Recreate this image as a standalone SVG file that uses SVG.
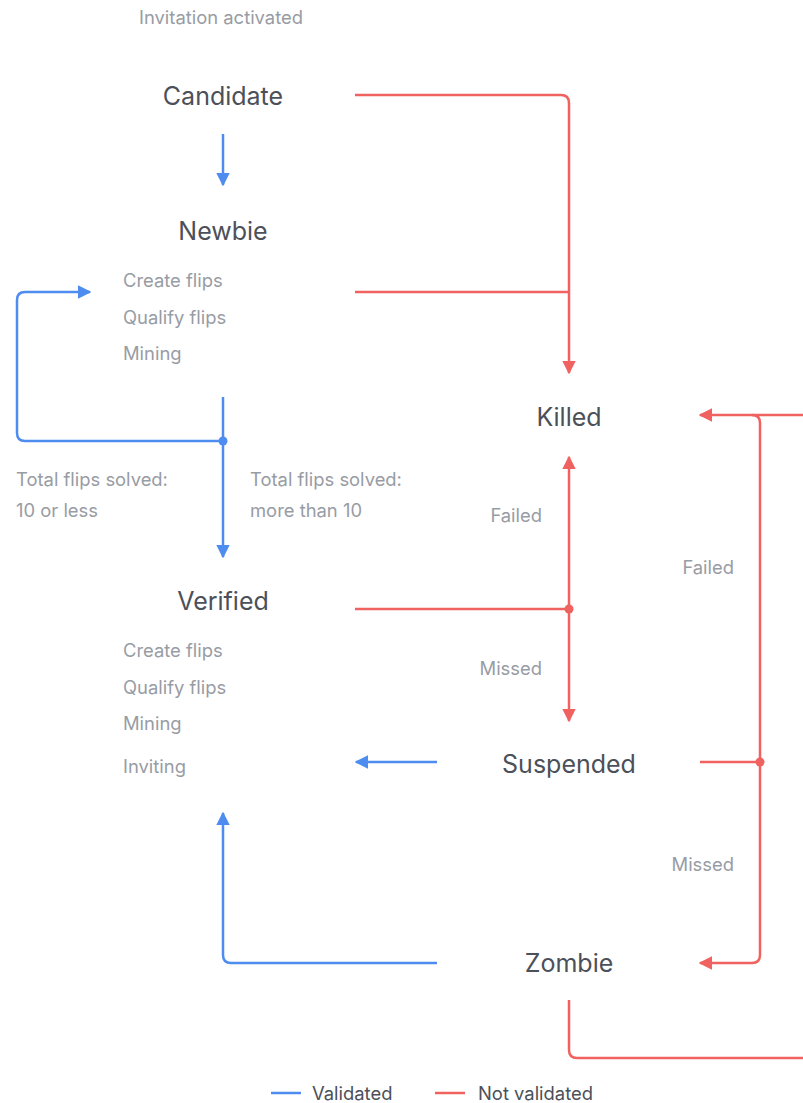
<svg xmlns="http://www.w3.org/2000/svg" width="803" height="1103" viewBox="0 0 803 1103">
<defs>
<marker id="ab" viewBox="0 0 10 10" refX="9" refY="5" markerWidth="5.5" markerHeight="5.5" orient="auto" markerUnits="strokeWidth"><path d="M0,0 L10,5 L0,10 Z" fill="#4f8cf0"/></marker>
<marker id="ar" viewBox="0 0 10 10" refX="9" refY="5" markerWidth="5.5" markerHeight="5.5" orient="auto" markerUnits="strokeWidth"><path d="M0,0 L10,5 L0,10 Z" fill="#f0625f"/></marker>
<style>
.t{font-family:Inter,"Noto Sans",sans-serif;font-size:25px;fill:#4c5059;text-anchor:middle;}
.s{font-family:Inter,"Noto Sans",sans-serif;font-size:18.4px;fill:#989ca4;}
.b{fill:none;stroke:#4f8cf0;stroke-width:2.5;}
.r{fill:none;stroke:#f0625f;stroke-width:2.5;}
</style>
</defs>
<rect width="803" height="1103" fill="#ffffff"/>
<g id="connectors">
<path class="b" d="M223,134 V185" marker-end="url(#ab)"/>
<path class="b" d="M223,397 V557" marker-end="url(#ab)"/>
<path class="b" d="M223,441 H25 Q17,441 17,433 V300 Q17,292 25,292 H90" marker-end="url(#ab)"/>
<circle cx="223" cy="441" r="4.5" fill="#4f8cf0"/>
<path class="b" d="M437,762 H356" marker-end="url(#ab)"/>
<path class="b" d="M437,963 H231 Q223,963 223,955 V813" marker-end="url(#ab)"/>
<path class="r" d="M355,95 H561 Q569,95 569,103 V373" marker-end="url(#ar)"/>
<path class="r" d="M355,292 H569"/>
<path class="r" d="M569,609 V457" marker-end="url(#ar)"/>
<path class="r" d="M569,609 V721" marker-end="url(#ar)"/>
<path class="r" d="M355,609 H569"/>
<circle cx="569" cy="609" r="4.5" fill="#f0625f"/>
<path class="r" d="M803,415 H700" marker-end="url(#ar)"/>
<path class="r" d="M752,415 Q760,415 760,423 V955 Q760,963 752,963 H700" marker-end="url(#ar)"/>
<path class="r" d="M700,762 H760"/>
<circle cx="760" cy="762" r="4.5" fill="#f0625f"/>
<path class="r" d="M569,1000 V1050 Q569,1058 577,1058 H803"/>
</g>
<g id="invitation"><text class="s" x="139" y="24">Invitation activated</text></g>
<g id="candidate"><text class="t" x="223" y="105">Candidate</text></g>
<g id="newbie">
<text class="t" x="223" y="240">Newbie</text>
<text class="s" x="123" y="287">Create flips</text>
<text class="s" x="123" y="324">Qualify flips</text>
<text class="s" x="123" y="360">Mining</text>
</g>
<g id="labels">
<text class="s" x="16" y="486">Total flips solved:</text>
<text class="s" x="16" y="517">10 or less</text>
<text class="s" x="250" y="486">Total flips solved:</text>
<text class="s" x="250" y="517">more than 10</text>
<text class="s" x="542" y="522" text-anchor="end">Failed</text>
<text class="s" x="542" y="675" text-anchor="end">Missed</text>
<text class="s" x="734" y="574" text-anchor="end">Failed</text>
<text class="s" x="734" y="871" text-anchor="end">Missed</text>
</g>
<g id="verified">
<text class="t" x="223" y="610">Verified</text>
<text class="s" x="123" y="657">Create flips</text>
<text class="s" x="123" y="694">Qualify flips</text>
<text class="s" x="123" y="730">Mining</text>
<text class="s" x="123" y="773">Inviting</text>
</g>
<g id="killed"><text class="t" x="569" y="426">Killed</text></g>
<g id="suspended"><text class="t" x="569" y="773">Suspended</text></g>
<g id="zombie"><text class="t" x="569" y="972">Zombie</text></g>
<g id="legend">
<line x1="271" y1="1093" x2="301" y2="1093" class="b"/>
<text class="s" x="312" y="1100" style="fill:#4c5059">Validated</text>
<line x1="435" y1="1093" x2="465" y2="1093" class="r"/>
<text class="s" x="478" y="1100" style="fill:#4c5059">Not validated</text>
</g>
</svg>
